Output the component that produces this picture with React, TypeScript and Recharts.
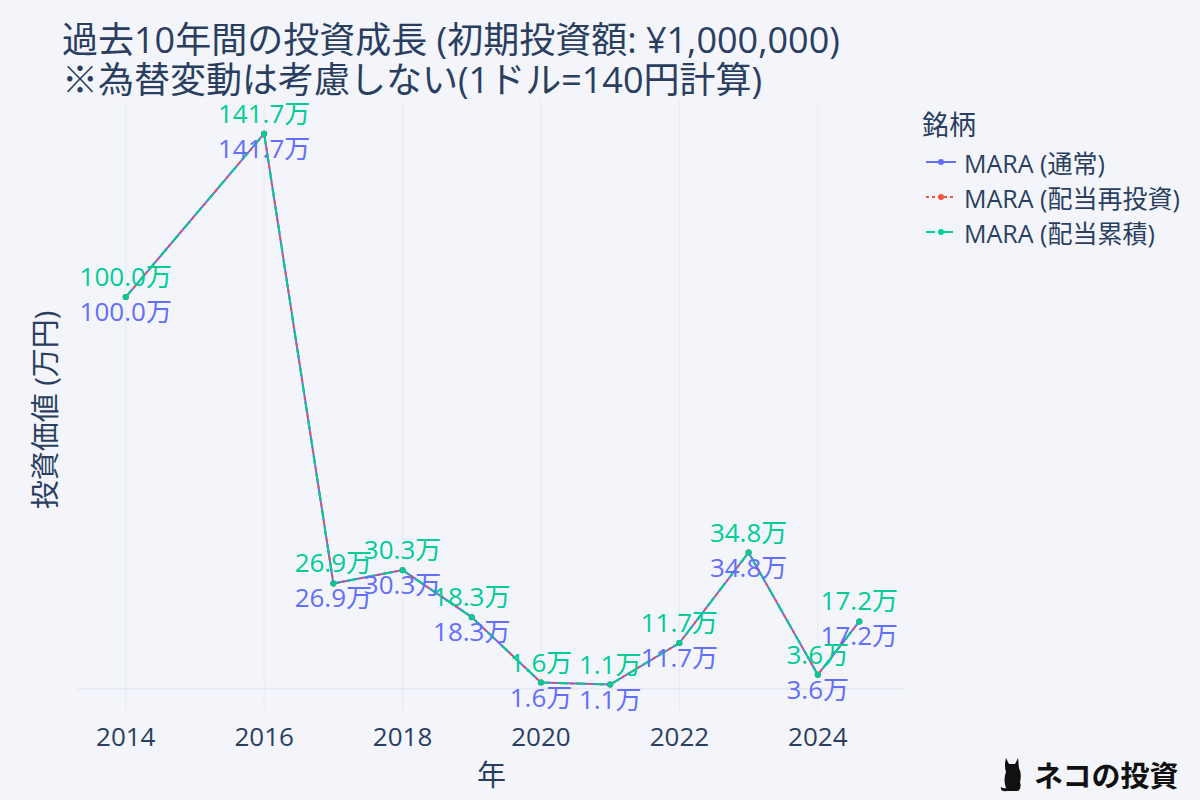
import {
  LineChart,
  Line,
  XAxis,
  YAxis,
  ReferenceLine,
  LabelList,
} from "recharts";

// x positions are fractional years (last point is mid-2024)
const years = [2014, 2016, 2017, 2018, 2019, 2020, 2021, 2022, 2023, 2024, 2024.6];
const normalValues = [100.0, 141.7, 26.9, 30.3, 18.3, 1.6, 1.1, 11.7, 34.8, 3.6, 17.2];
const reinvestValues = [100.0, 141.7, 26.9, 30.3, 18.3, 1.6, 1.1, 11.7, 34.8, 3.6, 17.2];
const accumulateValues = [100.0, 141.7, 26.9, 30.3, 18.3, 1.6, 1.1, 11.7, 34.8, 3.6, 17.2];
const xTicks = [2014, 2016, 2018, 2020, 2022, 2024];

const seriesNames = ["MARA (通常)", "MARA (配当再投資)", "MARA (配当累積)"];
const seriesKeys = ["normal", "reinvest", "accumulate"];
const seriesColors = ["#636efa", "#ef553b", "#00cc96"];
const seriesDash = ["", "3 3", "9 9"];

const titleLines = [
  "過去10年間の投資成長 (初期投資額: ¥1,000,000)",
  "※為替変動は考慮しない(1ドル=140円計算)",
];

const FONT = '"Open Sans", "Noto Sans CJK JP", sans-serif';
const TEXT = "#2a3f5f";
const BG = "#f4f5fa";

const chartData = years.map((year, i) => ({
  year,
  normal: normalValues[i],
  reinvest: reinvestValues[i],
  accumulate: accumulateValues[i],
}));

const fmt = (v: number) => `${v.toFixed(1)}万`;

function XTick({ x, y, payload }: any) {
  return (
    <text x={x} y={y + 36} textAnchor="middle" fontSize={26} fill={TEXT} fontFamily={FONT}>
      {payload.value}
    </text>
  );
}

function valueLabel(color: string, dy: number) {
  return (props: any) => {
    const { x, y, value } = props;
    return (
      <text x={x} y={y + dy} textAnchor="middle" fontSize={26} fill={color} fontFamily={FONT}>
        {fmt(value)}
      </text>
    );
  };
}

function LegendBox() {
  return (
    <div style={{ position: "absolute", top: 106, left: 922, fontFamily: FONT, color: TEXT }}>
      <div style={{ fontSize: 27, height: 38, lineHeight: "38px" }}>銘柄</div>
      {seriesNames.map((name, i) => (
        <div key={name} style={{ display: "flex", alignItems: "center", height: 35 }}>
          <svg width={38} height={20} style={{ marginRight: 4 }}>
            <line
              x1={4}
              y1={10}
              x2={34}
              y2={10}
              stroke={seriesColors[i]}
              strokeWidth={2}
              strokeDasharray={seriesDash[i]}
            />
            <circle cx={19} cy={10} r={3} fill={seriesColors[i]} />
          </svg>
          <span style={{ fontSize: 25 }}>{name}</span>
        </div>
      ))}
    </div>
  );
}

function CatMark() {
  return (
    <svg width={30} height={40} viewBox="0 0 30 40">
      <path
        d="M8 4 L11 10 L17 10 L20 4 L21 14 Q24 20 22 28 Q24 34 20 37 L9 37 Q2 38 3 33 Q6 35 8 34 Q5 26 8 18 Q6 12 8 4 Z"
        fill="#111"
      />
    </svg>
  );
}

export default function App() {
  return (
    <div style={{ position: "relative", width: 1200, height: 800, background: BG, fontFamily: FONT }}>
      <style>{"body{margin:0}"}</style>
      <div style={{ position: "absolute", left: 62, top: 20, color: TEXT, fontSize: 36, lineHeight: "40px", whiteSpace: "nowrap" }}>
        {titleLines.map((t) => (
          <div key={t}>{t}</div>
        ))}
      </div>
      <div
        style={{
          position: "absolute",
          left: 43,
          top: 410,
          transform: "translate(-50%, -50%) rotate(-90deg)",
          whiteSpace: "nowrap",
          color: TEXT,
          fontSize: 29,
        }}
      >
        投資価値 (万円)
      </div>
      <LineChart
        width={1200}
        height={800}
        data={chartData}
        margin={{ top: 100, right: 295, bottom: 0, left: 78 }}
      >
        <XAxis
          dataKey="year"
          type="number"
          domain={[2013.31, 2025.26]}
          ticks={xTicks}
          allowDataOverflow
          height={90}
          tickSize={0}
          tickMargin={0}
          axisLine={false}
          tickLine={false}
          tick={<XTick />}
          interval={0}
          label={{ value: "年", position: "insideBottom", offset: 14, fontSize: 29, fill: TEXT }}
        />
        <YAxis type="number" domain={[-5.4, 150.3]} allowDataOverflow hide />
        {xTicks.map((t) => (
          <ReferenceLine key={t} x={t} stroke="#e8eaf2" strokeWidth={1} />
        ))}
        <ReferenceLine y={0} stroke="#e6e9f3" strokeWidth={2} />
        {seriesKeys.map((key, i) => (
          <Line
            key={key}
            type="linear"
            dataKey={key}
            name={seriesNames[i]}
            stroke={seriesColors[i]}
            strokeWidth={2}
            strokeDasharray={seriesDash[i] || undefined}
            dot={{ r: 3, fill: seriesColors[i], stroke: "none" }}
            activeDot={false}
            isAnimationActive={false}
          >
            {i === 0 && <LabelList dataKey={key} content={valueLabel(seriesColors[0], 24)} />}
            {i === 2 && <LabelList dataKey={key} content={valueLabel(seriesColors[2], -11)} />}
          </Line>
        ))}
      </LineChart>
      <LegendBox />
      <div
        style={{
          position: "absolute",
          left: 998,
          top: 753,
          display: "flex",
          alignItems: "center",
          gap: 6,
        }}
      >
        <CatMark />
        <span style={{ fontSize: 29, fontWeight: 700, color: "#111", fontFamily: '"Noto Sans CJK JP", sans-serif' }}>
          ネコの投資
        </span>
      </div>
    </div>
  );
}
